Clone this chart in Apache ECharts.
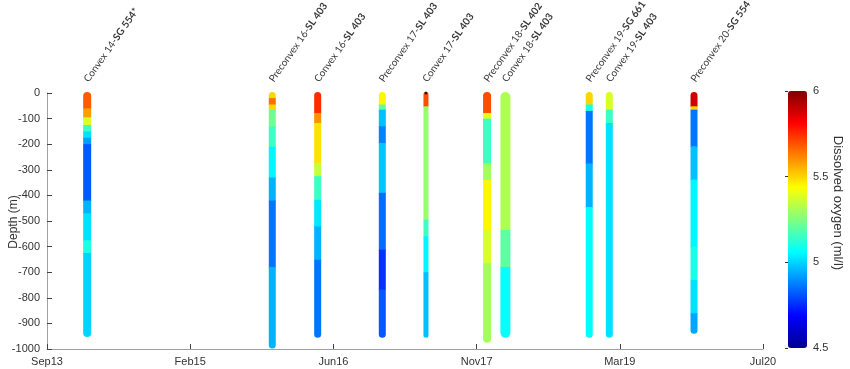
<!DOCTYPE html>
<html><head><meta charset="utf-8">
<script src="https://cdn.jsdelivr.net/npm/echarts@6/dist/echarts.min.js"></script>
<style>html,body{margin:0;padding:0;background:#fff}#c{width:850px;height:369px}</style>
</head><body><div id="c"></div>
<script>
// x in months since Sep 2013
const xTickLabels = ['Sep13','Feb15','Jun16','Nov17','Mar19','Jul20'];
const yTickValues = [0,-100,-200,-300,-400,-500,-600,-700,-800,-900,-1000];
const colorbarTicks = [4.5, 5, 5.5, 6];
const yAxisTitle = 'Depth (m)';
const colorbarTitle = 'Dissolved oxygen (ml/l)';
const profileNames = [
  ['Convex 14-','SG 554*'], ['Preconvex 16-','SL 403'], ['Convex 16-','SL 403'],
  ['Preconvex 17-','SL 403'], ['Convex 17-','SL 403'], ['Preconvex 18-','SL 402'],
  ['Convex 18-','SL 403'], ['Preconvex 19-','SG 661'], ['Convex 19-','SL 403'],
  ['Preconvex 20-','SG 554']
];
const profileMonths = [4.6, 25.8, 31.0, 38.4, 43.4, 50.4, 52.5, 62.1, 64.4, 74.1];
// segments: [top depth (m), bottom depth (m), dissolved oxygen (ml/l)]
const convex14 = [[0,60,5.68],[60,95,5.58],[95,125,5.38],[125,150,5.15],[150,175,5.02],[175,200,4.92],[200,420,4.82],[420,470,4.95],[470,575,5.02],[575,625,5.1],[625,950,5.0]];
const preconvex16 = [[0,20,5.5],[20,45,5.65],[45,66,5.5],[66,130,5.22],[130,210,5.15],[210,330,5.05],[330,420,4.95],[420,680,4.86],[680,995,4.95]];
const convex16 = [[0,78,5.75],[78,117,5.6],[117,273,5.48],[273,325,5.35],[325,417,5.15],[417,521,5.03],[521,651,4.95],[651,953,4.86]];
const preconvex17 = [[0,45,5.45],[45,65,5.2],[65,130,4.97],[130,195,4.88],[195,390,4.98],[390,612,4.85],[612,768,4.76],[768,953,4.82]];
const convex17 = [[0,52,5.7],[52,495,5.28],[495,560,5.15],[560,700,5.05],[700,953,4.97]];
const preconvex18 = [[0,78,5.7],[78,100,5.4],[100,275,5.15],[275,340,5.3],[340,535,5.45],[535,665,5.38],[665,972,5.3]];
const convex18 = [[0,535,5.32],[535,680,5.2],[680,953,5.07]];
const preconvex19 = [[0,45,5.5],[45,70,5.1],[70,275,4.86],[275,445,4.95],[445,953,5.06]];
const convex19 = [[0,65,5.38],[65,117,5.15],[117,953,5.02]];
const preconvex20 = [[0,52,5.88],[52,65,5.5],[65,208,4.86],[208,338,4.97],[338,600,5.05],[600,730,5.1],[730,860,5.02],[860,937,4.93]];
const profiles = [convex14, preconvex16, convex16, preconvex17, convex17, preconvex18, convex18, preconvex19, convex19, preconvex20];
const markerPoints = [[43.4, 0]];

const barWidths = [8, 7, 7, 7, 5, 8, 10, 7, 7, 7];
const jet = ['#00008f','#0000ff','#0080ff','#00ffff','#80ff80','#ffff00','#ff8000','#ff0000','#800000'];
const axisFont = 'Liberation Sans, Arial, sans-serif';

const chart = echarts.init(document.getElementById('c'));
const series = profiles.map((segs, i) => ({
  type: 'custom',
  xAxisIndex: 0, yAxisIndex: 0,
  clip: false,
  data: segs.map(s => [profileMonths[i], -s[0], -s[1], s[2]]),
  encode: { x: 0, y: [1, 2] },
  renderItem: (params, api) => {
    const x = api.value(0);
    const p1 = api.coord([x, api.value(1)]);
    const p2 = api.coord([x, api.value(2)]);
    const w = barWidths[i];
    const n = segs.length;
    const idx = params.dataIndex;
    const rTop = idx === 0 ? w / 2 : 0;
    const rBot = idx === n - 1 ? w / 2 : 0;
    return {
      type: 'rect',
      shape: { x: p1[0] - w / 2, y: p1[1] - (idx === 0 ? 1 : 0), width: w, height: p2[1] - p1[1] + 0.8 + (idx === 0 ? 1 : 0), r: [rTop, rTop, rBot, rBot] },
      style: { fill: api.visual('color') }
    };
  }
}));

series.push({
  type: 'scatter', xAxisIndex: 0, yAxisIndex: 0,
  symbolSize: 0.01, silent: true, clip: false,
  data: profileMonths.map((m, i) => ({ value: [m, 0], name: i })),
  label: {
    show: true,
    position: [-1, -12],
    rotate: 55,
    align: 'left', verticalAlign: 'middle',
    formatter: p => '{a|' + profileNames[p.dataIndex][0] + '}{b|' + profileNames[p.dataIndex][1] + '}',
    rich: {
      a: { fontFamily: 'Lato, sans-serif', fontSize: 10, color: '#000' },
      b: { fontFamily: 'Lato, sans-serif', fontSize: 10, fontWeight: 'bold', color: '#000' }
    }
  }
});
series.push({
  type: 'scatter', xAxisIndex: 0, yAxisIndex: 0, clip: false, silent: true,
  symbol: 'circle', symbolSize: 3, itemStyle: { color: '#000' },
  data: markerPoints
});

chart.setOption({
  animation: false,
  backgroundColor: '#fff',
  grid: [
    { left: 47, right: 87, top: 93, bottom: 20, outerBoundsMode: 'none', containLabel: false },
    { left: 788, width: 19, top: 91, height: 257, outerBoundsMode: 'none', containLabel: false }
  ],
  xAxis: [
    { type: 'value', gridIndex: 0, min: 0, max: 82, interval: 16.4, position: 'bottom',
      axisLine: { show: true, onZero: false, lineStyle: { color: '#a0a0a0', width: 1 } },
      axisTick: { show: true, inside: true, length: 5, lineStyle: { color: '#444' } },
      splitLine: { show: false },
      axisLabel: { margin: 7, color: '#333', fontSize: 11, fontFamily: axisFont,
        formatter: v => xTickLabels[Math.round(v / 16.4)] }
    },
    { type: 'value', gridIndex: 1, show: false, min: 0, max: 1 }
  ],
  yAxis: [
    { type: 'value', gridIndex: 0, min: -1000, max: 0, interval: 100,
      axisLine: { show: true, onZero: false, lineStyle: { color: '#a0a0a0', width: 1 } },
      axisTick: { show: true, inside: true, length: 5, lineStyle: { color: '#444' } },
      splitLine: { show: false },
      axisLabel: { margin: 7, color: '#333', fontSize: 11, fontFamily: axisFont,
        formatter: v => yTickValues.includes(v) ? String(v) : '' }
    },
    { type: 'value', gridIndex: 1, min: colorbarTicks[0], max: colorbarTicks[colorbarTicks.length - 1], interval: 0.5,
      position: 'right',
      axisLine: { show: false },
      axisTick: { show: true, inside: true, length: 3, lineStyle: { color: '#333' } },
      splitLine: { show: false },
      axisLabel: { margin: 6, color: '#333', fontSize: 11, fontFamily: axisFont }
    }
  ],
  visualMap: {
    type: 'continuous',
    min: 4.5, max: 6,
    dimension: 3,
    seriesIndex: profiles.map((_, i) => i),
    calculable: false,
    orient: 'vertical',
    left: 788, top: 91,
    itemWidth: 19, itemHeight: 257,
    padding: 0,
    text: null,
    hoverLink: false,
    inRange: { color: jet }
  },
  graphic: [{
    type: 'text',
    x: 838, y: 203,
    rotation: -Math.PI / 2,
    style: { text: colorbarTitle, fill: '#333', font: '13px Liberation Sans, Arial, sans-serif', align: 'center', verticalAlign: 'middle' }
  }, {
    type: 'text',
    x: 14, y: 222,
    rotation: Math.PI / 2,
    style: { text: yAxisTitle, fill: '#333', font: '12px Liberation Sans, Arial, sans-serif', align: 'center', verticalAlign: 'middle' }
  }],
  series: series
});
</script>
</body></html>
